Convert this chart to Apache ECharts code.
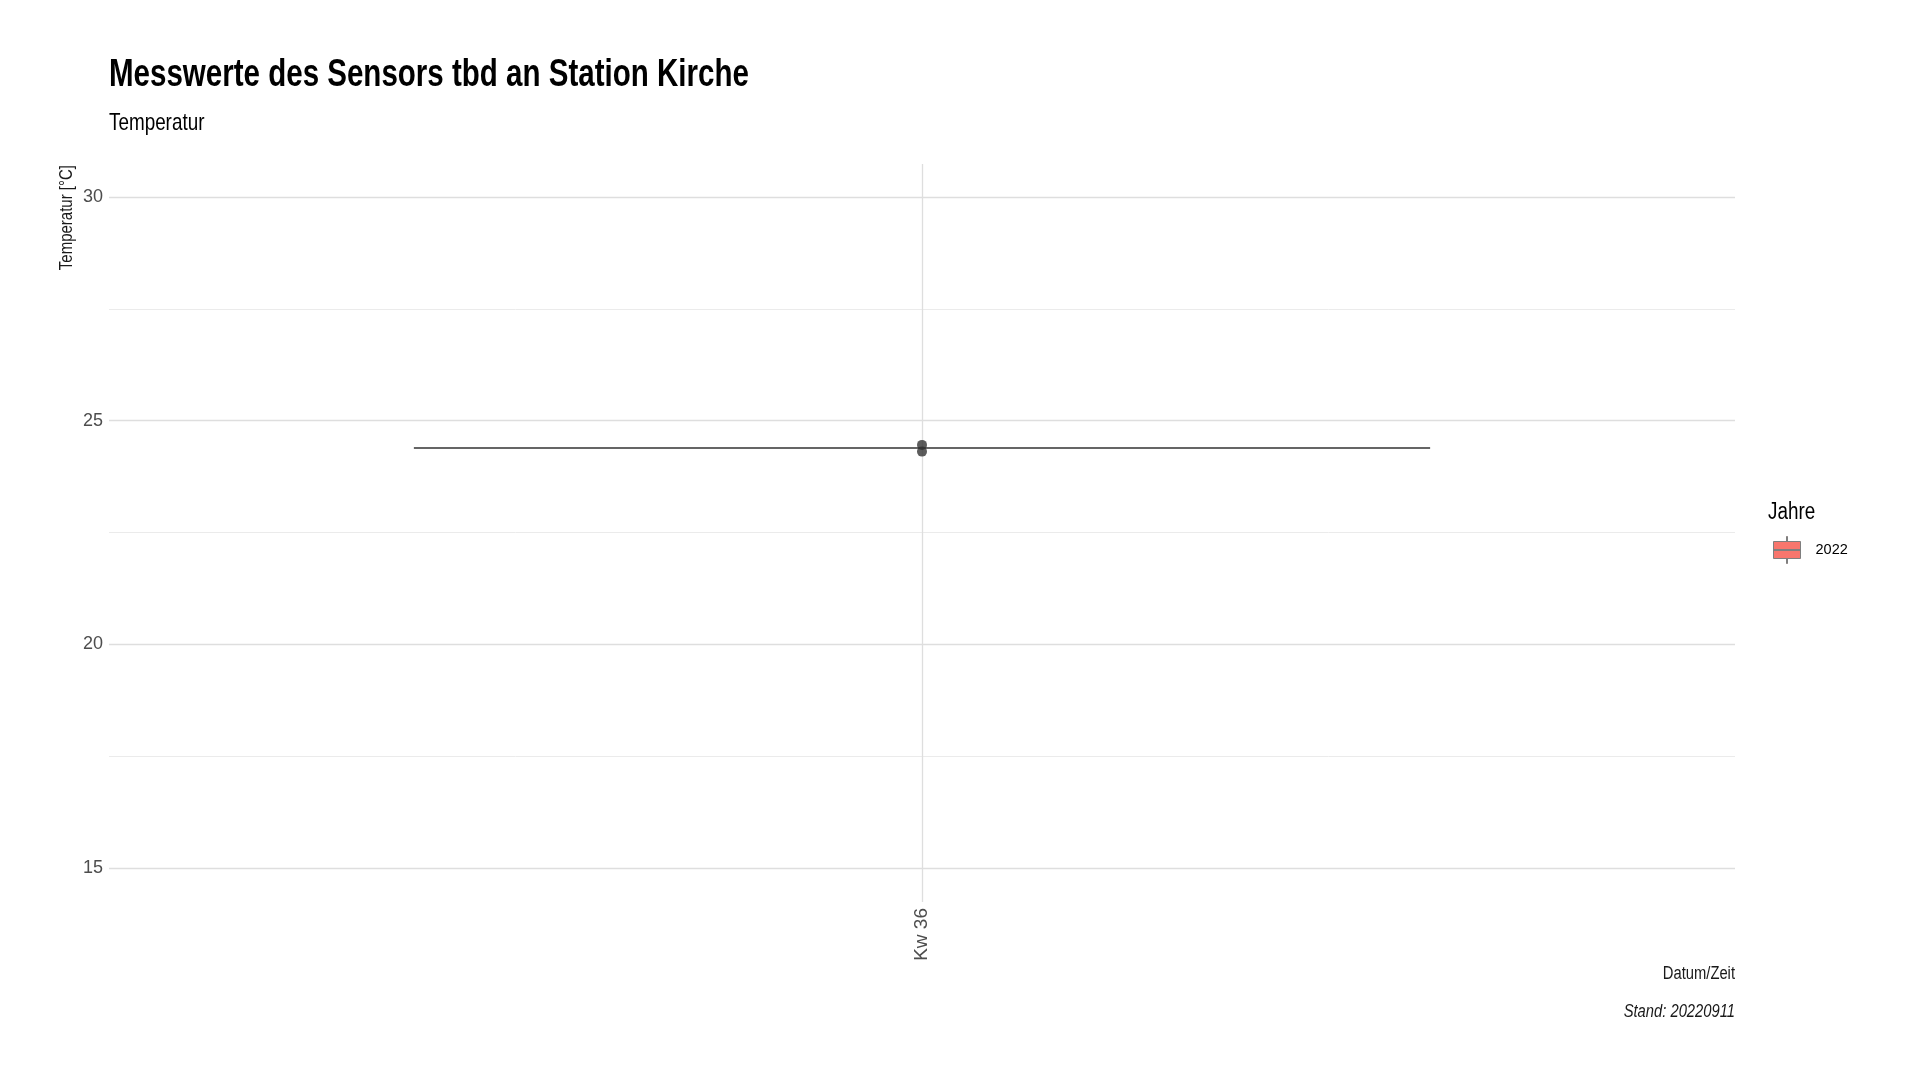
<!DOCTYPE html>
<html>
<head>
<meta charset="utf-8">
<title>Messwerte des Sensors tbd an Station Kirche</title>
<script src="https://cdn.jsdelivr.net/npm/echarts@6/dist/echarts.min.js"></script>
<style>
  html, body { margin: 0; padding: 0; background: #fff; }
  #chart { width: 1920px; height: 1080px; }
</style>
</head>
<body>
<div id="chart"></div>
<script>
// data
const categories = ["Kw 36"];
const years = ["2022"];
// box summary per week: [min, q1, median, q3, max]
const boxStats = [[24.39, 24.39, 24.39, 24.39, 24.39]];
// single points outside the box
const outlierWeeks = ["Kw 36", "Kw 36"];
const outlierValues = [24.46, 24.31];
const majorTicks = [15, 20, 25, 30];
const minorTicks = [17.5, 22.5, 27.5];
const yMin = 14.24;
const yMax = 30.74;

// no narrow font installed, so texts are squeezed horizontally
const FONT = "'Liberation Sans', Arial, sans-serif";
const NARROW = 0.82;

function label(text, x, y, size, opts) {
  opts = opts || {};
  return {
    type: "text",
    x: x, y: y,
    rotation: opts.rotation || 0,
    scaleX: opts.squeeze || NARROW,
    silent: true,
    style: {
      text: text,
      font: (opts.style || "") + " " + (opts.weight || "normal") + " " + size + "px " + FONT,
      fill: opts.color || "#000",
      textAlign: opts.align || "left",
      textVerticalAlign: opts.valign || "bottom"
    }
  };
}

const chart = echarts.init(document.getElementById("chart"));

const options = {
  backgroundColor: "#ffffff",
  animation: false,
  graphic: [
    label("Messwerte des Sensors tbd an Station Kirche", 109, 95, 39, { weight: "bold", squeeze: 0.757 }),
    label("Temperatur", 109, 135.5, 24, { squeeze: 0.786 }),
    label("Jahre", 1768, 524, 23),
    label("Datum/Zeit", 1735, 983, 18, { align: "right", color: "#1a1a1a" }),
    label("Stand: 20220911", 1735, 1021, 18, { align: "right", style: "italic", color: "#1a1a1a" }),
    label("Temperatur [°C]", 67, 165, 18.3, {
      rotation: Math.PI / 2, align: "right", valign: "middle", color: "#1a1a1a"
    })
  ],
  legend: {
    data: years,
    left: 1773, top: 536,
    padding: 0,
    orient: "vertical",
    itemWidth: 27, itemHeight: 27,
    icon: "path://M13,0H14V5H13Z M0,5H27V22H0Z M0,13H27V14H0Z M13,22H14V27H13Z",
    itemStyle: { color: "#F8766D", borderColor: "#7f7f7f", borderWidth: 1 },
    textStyle: { fontFamily: FONT, fontSize: 14.5, color: "#000", padding: [0, 0, 0, 10] }
  },
  grid: { left: 109, right: 185, top: 164, bottom: 178, containLabel: false },
  xAxis: {
    type: "category",
    data: categories,
    boundaryGap: true,
    axisLine: { show: false },
    axisTick: { show: false },
    axisLabel: { rotate: 90, margin: 6, fontFamily: FONT, fontSize: 19, color: "#4d4d4d" },
    splitLine: { show: true, alignWithLabel: true, lineStyle: { color: "#dedede", width: 1.3 } }
  },
  yAxis: [
    {
      type: "value",
      min: yMin, max: yMax,
      axisLine: { show: false },
      axisTick: { show: false, customValues: majorTicks },
      axisLabel: { customValues: majorTicks, margin: 6, fontFamily: FONT, fontSize: 18, color: "#4d4d4d" },
      splitLine: { show: true, lineStyle: { color: "#dedede", width: 1.3 } }
    },
    {
      type: "value",
      min: yMin, max: yMax,
      position: "left",
      axisLine: { show: false },
      axisTick: { show: false, customValues: minorTicks },
      axisLabel: { show: false },
      splitLine: { show: true, lineStyle: { color: "#ebebeb", width: 1 } }
    }
  ],
  series: [
    {
      name: years[0],
      type: "boxplot",
      data: boxStats,
      boxWidth: ["62.5%", "62.5%"],
      itemStyle: { color: "#F8766D", borderColor: "#333333", borderWidth: 1.5 },
      z: 3
    },
    {
      name: years[0],
      type: "scatter",
      data: outlierWeeks.map((w, i) => [w, outlierValues[i]]),
      symbol: "circle",
      symbolSize: 10,
      itemStyle: { color: "#333333" },
      z: 4
    }
  ]
};

chart.setOption(options);
</script>
</body>
</html>
